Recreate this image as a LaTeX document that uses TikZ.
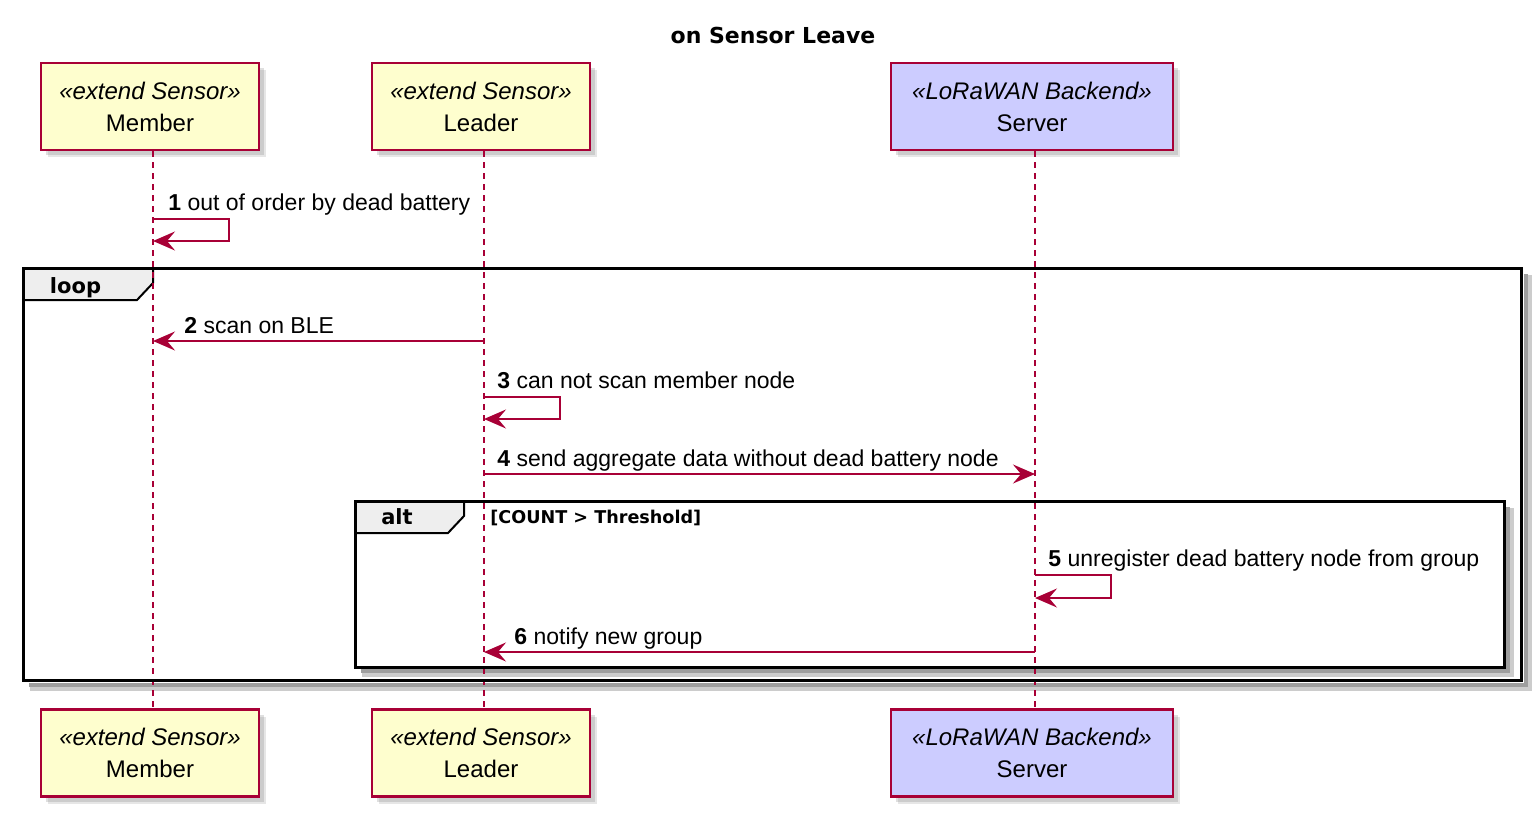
\documentclass[tikz,border=0pt]{standalone}
\usepackage{fontspec}
\setmainfont{Liberation Sans}
\newfontfamily\djv{DejaVu Sans}
\usetikzlibrary{arrows.meta,shadows,positioning}
\definecolor{umlred}{HTML}{A80036}
\definecolor{umlyellow}{HTML}{FEFECE}
\definecolor{umlblue}{HTML}{CCCCFF}
\definecolor{tabgray}{HTML}{EEEEEE}
\tikzset{
  actor/.style={draw=umlred, line width=1.25pt, fill=umlyellow, align=center,
    minimum width=109pt, minimum height=43.5pt, inner sep=0pt,
    font=\fontsize{12}{16}\selectfont,
    drop shadow={shadow xshift=3.5pt, shadow yshift=-3.5pt, opacity=0.2},
    drop shadow={shadow xshift=2.5pt, shadow yshift=-2.5pt, opacity=0.25}},
  backend/.style={actor, fill=umlblue, minimum width=141pt},
  lifeline/.style={draw=umlred, line width=0.75pt, dash pattern=on 3pt off 2.5pt},
  msg/.style={draw=umlred, line width=0.9pt, -{Stealth[length=11pt,width=9.5pt,inset=4pt]}},
  lbl/.style={anchor=base west, inner sep=0pt, font=\fontsize{11.5}{14}\selectfont},
  frame/.style={draw=black, line width=1.5pt},
  fshadow/.style={draw=black!20, line width=4pt},
  fshadowin/.style={draw=black!38, line width=2pt},
  tab/.style={draw=black, line width=1pt, fill=tabgray},
  tablbl/.style={anchor=base, inner sep=0pt, font=\djv\bfseries\fontsize{10.5}{12}\selectfont}
}
\begin{document}
\begin{tikzpicture}[x=0.5pt, y=-0.5pt]
\useasboundingbox (0,0) rectangle (1539,815);
\node[anchor=base, inner sep=0pt, font=\djv\bfseries\fontsize{11}{13}\selectfont] (title) at (773,43) {on Sensor Leave};

% participants, top and bottom
\node[actor] (memT) at (150,106.5) {{\itshape «extend Sensor»}\\Member};
\node[actor] (ldrT) at (481,106.5) {{\itshape «extend Sensor»}\\Leader};
\node[backend] (srvT) at (1032,106.5) {{\itshape «LoRaWAN Backend»}\\Server};
\node[actor] (memB) at (150,753) {{\itshape «extend Sensor»}\\Member};
\node[actor] (ldrB) at (481,753) {{\itshape «extend Sensor»}\\Leader};
\node[backend] (srvB) at (1032,753) {{\itshape «LoRaWAN Backend»}\\Server};

\coordinate (mem) at (153,0);
\coordinate (ldr) at (484,0);
\coordinate (srv) at (1035,0);

% frames
\draw[fshadow] (1528,275) -- (1528,687) -- (30,687);
\draw[fshadowin] (1526,274) -- (1526,685) -- (29,685);
\draw[fshadow] (1510,508) -- (1510,673) -- (362,673);
\draw[fshadowin] (1508,507) -- (1508,671) -- (361,671);
\draw[tab] (23,268) -- (153,268) -- (153,283) -- (137,300) -- (23,300) -- cycle;
\draw[tab] (355,501) -- (464,501) -- (464,516) -- (448,533) -- (355,533) -- cycle;
\node[tablbl] (loop) at (75.5,293) {loop};
\node[tablbl] (alt) at (397,524) {alt};
\node[anchor=base west, inner sep=0pt, font=\djv\bfseries\fontsize{8.8}{10}\selectfont] (guard) at (490,523) {[COUNT > Threshold]};

% lifelines
\draw[lifeline] (mem |- memT.south) -- (mem |- memB.north);
\draw[lifeline] (ldr |- ldrT.south) -- (ldr |- ldrB.north);
\draw[lifeline] (srv |- srvT.south) -- (srv |- srvB.north);

\draw[frame] (23,268) rectangle (1521,680);
\draw[frame] (355,501) rectangle (1504,667);

% messages
\draw[msg] (mem |- 0,219) -- ++(76,0) -- ++(0,22) -- (mem |- 0,241);
\node[lbl, xshift=7.5pt] (l1) at (mem |- 0,210) {\textbf{1} out of order by dead battery};
\draw[msg] (ldr |- 0,341) -- (mem |- 0,341);
\node[lbl, xshift=15.5pt] (l2) at (mem |- 0,333) {\textbf{2} scan on BLE};
\draw[msg] (ldr |- 0,397) -- ++(76,0) -- ++(0,22) -- (ldr |- 0,419);
\node[lbl, xshift=6.5pt] (l3) at (ldr |- 0,388) {\textbf{3} can not scan member node};
\draw[msg] (ldr |- 0,474) -- (srv |- 0,474);
\node[lbl, xshift=6.5pt] (l4) at (ldr |- 0,466) {\textbf{4} send aggregate data without dead battery node};
\draw[msg] (srv |- 0,575) -- ++(76,0) -- ++(0,23) -- (srv |- 0,598);
\node[lbl, xshift=6.5pt] (l5) at (srv |- 0,566) {\textbf{5} unregister dead battery node from group};
\draw[msg] (srv |- 0,652) -- (ldr |- 0,652);
\node[lbl, xshift=15pt] (l6) at (ldr |- 0,644) {\textbf{6} notify new group};
\end{tikzpicture}
\end{document}
